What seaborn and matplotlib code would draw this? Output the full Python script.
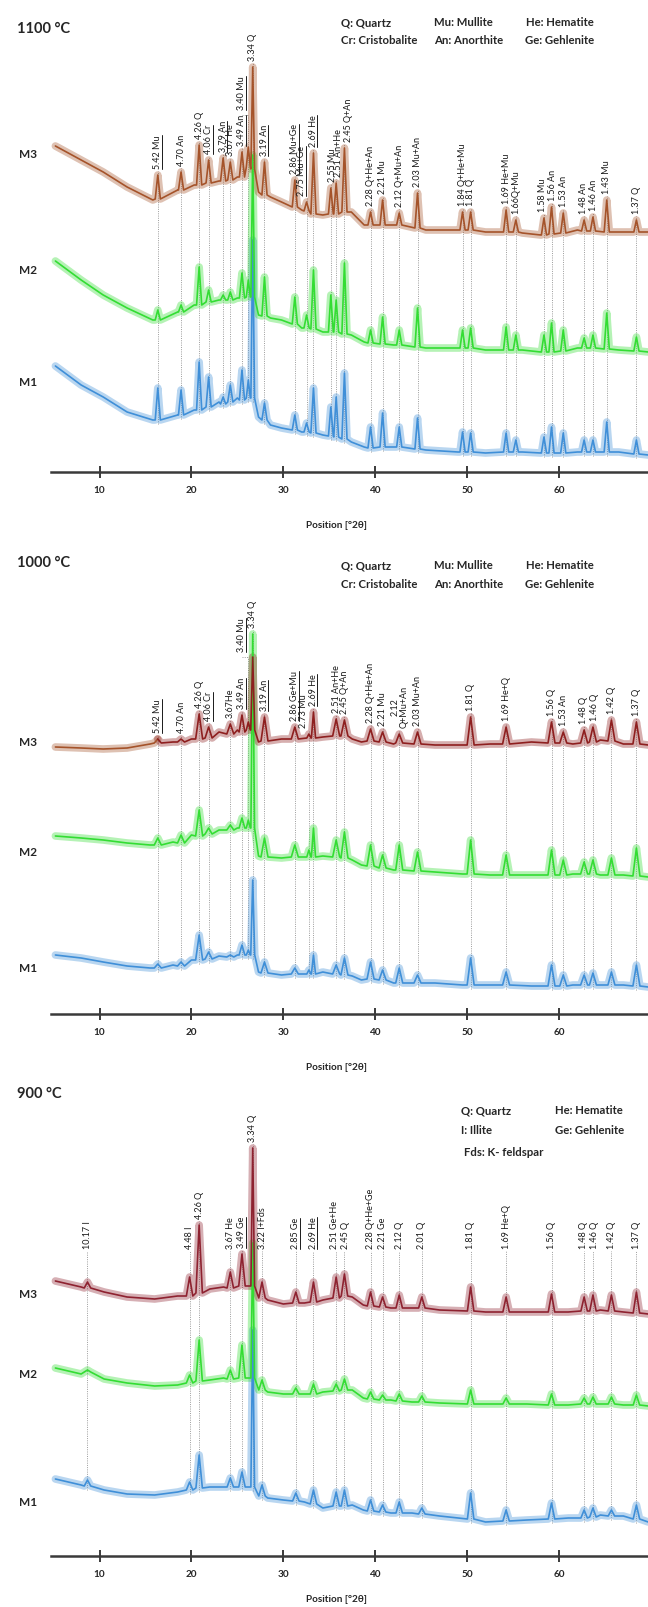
import numpy as np
import pandas as pd
import matplotlib
matplotlib.use("Agg")
import matplotlib.pyplot as plt
from matplotlib.lines import Line2D
import seaborn as sns

# ======================= DATA =======================
# ---------- 1100 °C ----------
T1100_POS = [16.34, 18.87, 20.84, 21.87, 23.45, 24.23, 25.50, 26.19, 26.67, 27.95, 31.25, 32.53,
             33.28, 35.17, 35.75, 36.65, 39.49, 40.80, 42.61, 44.60, 49.50, 50.38, 54.24, 55.30,
             58.36, 59.18, 60.46, 62.73, 63.69, 65.19, 68.42]
T1100_LAB = ["5.42 Mu", "4.70 An", "4.26 Q", "4.06 Cr", "3.79 An", "3.67 He", "3.49 An", "3.40 Mu",
             "3.34 Q", "3.19 An", "2.86 Mu+Ge", "2.75 Mu+Ge", "2.69 He", "2.55 Mu", "2.51 An+He",
             "2.45 Q+An", "2.28 Q+He+An", "2.21 Mu", "2.12 Q+Mu+An", "2.03 Mu+An", "1.84 Q+He+Mu",
             "1.81 Q", "1.69 He+Mu", "1.66Q+Mu", "1.58 Mu", "1.56 An", "1.53 An", "1.48 An",
             "1.46 An", "1.43 Mu", "1.37 Q"]
T1100_UL = [1, 0, 0, 1, 1, 0, 1, 1, 0, 1, 1, 1, 1, 0, 0, 0, 0, 0, 0, 0, 0, 0, 0, 0, 0, 0, 0, 0, 0, 0, 0]
T1100_KX = [5.2, 8, 10.4, 13, 15.8, 18.5, 20.3, 23.0, 25.0, 27.3, 28.6, 29.8, 32.0, 34.3, 37.4,
            38.8, 42.0, 45.5, 49.0, 52.0, 56.0, 58.0, 62.0, 66.5, 69.7]
T1100_M3_K = [326, 312, 300, 285, 272, 282, 287, 291, 295, 280, 275, 270, 262, 257, 260,
              247, 247, 242, 242, 240, 239, 237, 242, 240, 240]
T1100_M2_K = [211, 192, 177, 164, 152, 160, 167, 172, 174, 157, 154, 152, 144, 140, 137,
              130, 127, 124, 124, 122, 122, 120, 124, 122, 120]
T1100_M1_K = [106, 87, 75, 60, 52, 57, 62, 70, 74, 55, 47, 44, 40, 37, 30,
              25, 25, 22, 20, 19, 20, 19, 20, 20, 17]
T1100_M3_A = [297, 300, 327, 312, 314, 310, 320, 325, 405, 310, 292, 270, 319, 284, 289, 324,
              260, 272, 259, 279, 260, 260, 262, 252, 254, 265, 259, 252, 255, 272, 252]
T1100_M3_B = [273, 282, 287, 289, 291, 292, 295, 305, 303, 277, 265, 261, 258, 258, 258, 260,
              247, 247, 247, 244, 242, 242, 240, 240, 237, 238, 239, 241, 241, 240, 240]
T1100_M2_A = [162, 167, 205, 182, 177, 180, 199, 192, 317, 195, 175, 157, 202, 177, 172, 209,
              142, 155, 142, 164, 142, 144, 145, 137, 137, 149, 142, 134, 137, 159, 135]
T1100_M2_B = [152, 160, 167, 170, 172, 172, 174, 175, 175, 156, 148, 144, 143, 140, 140, 138,
              129, 128, 127, 125, 124, 124, 122, 122, 120, 120, 121, 124, 124, 123, 121]
T1100_M1_A = [84, 82, 110, 95, 75, 87, 102, 92, 232, 69, 57, 49, 84, 65, 75, 99,
              45, 59, 45, 54, 40, 39, 39, 32, 35, 45, 39, 32, 32, 50, 32]
T1100_M1_B = [52, 57, 62, 65, 68, 70, 72, 74, 74, 52, 42, 40, 39, 36, 35, 33,
              24, 25, 25, 23, 20, 20, 20, 20, 19, 19, 19, 20, 20, 20, 18]

# ---------- 1000 °C ----------
T1000_POS = [16.34, 18.87, 20.84, 21.87, 24.23, 25.50, 26.19, 26.67, 27.95, 31.25, 32.78, 33.28,
             35.75, 36.65, 39.49, 40.80, 42.61, 44.60, 50.38, 54.24, 59.18, 60.46, 62.73, 63.69,
             65.70, 68.42]
T1000_LAB = ["5.42 Mu", "4.70 An", "4.26 Q", "4.06 Cr", "3.67He", "3.49 An", "3.40 Mu", "3.34 Q",
             "3.19 An", "2.86 Ge+Mu", "2.73 Mu", "2.69 He", "2.51 An+He", "2.45 Q+An",
             "2.28 Q+He+An", "2.21 Mu", "2.12\nQ+Mu+An", "2.03 Mu+An", "1.81 Q", "1.69 He+Q",
             "1.56 Q", "1.53 An", "1.48 Q", "1.46 Q", "1.42 Q", "1.37 Q"]
T1000_UL = [1, 0, 0, 1, 0, 1, 1, 0, 1, 1, 0, 1, 0, 0, 0, 0, 0, 0, 0, 0, 0, 0, 0, 0, 0, 0]
T1000_KX = [5.2, 8, 10.4, 13, 15.5, 18, 20.0, 23.0, 25.0, 27.3, 29.8, 34.3, 37.5, 38.5, 42.0,
            46.5, 49.5, 52.5, 57.0, 61.5, 64.5, 67.0, 69.7]
T1000_M3_K = [267, 266, 265, 266, 270, 272, 275, 282, 284, 272, 275, 277, 275, 272, 270,
              269, 269, 270, 272, 270, 274, 270, 269]
T1000_M2_K = [178, 176, 174, 171, 169, 172, 179, 184, 186, 158, 156, 158, 154, 149, 144,
              142, 140, 139, 139, 140, 139, 139, 137]
T1000_M1_K = [59, 56, 52, 48, 46, 49, 54, 58, 59, 42, 39, 42, 38, 34, 31,
              31, 29, 29, 28, 29, 29, 29, 27]
T1000_M3_A = [275, 275, 300, 287, 290, 299, 292, 357, 297, 287, 280, 302, 295, 294, 285, 282,
              280, 282, 297, 287, 292, 282, 284, 287, 294, 292]
T1000_M3_B = [271, 272, 275, 276, 280, 282, 284, 284, 273, 275, 276, 276, 278, 278, 273, 272,
              271, 270, 269, 270, 271, 271, 271, 272, 273, 270]
T1000_M2_A = [176, 179, 204, 186, 189, 196, 194, 380, 176, 169, 164, 186, 174, 182, 169, 159,
              169, 162, 174, 159, 164, 154, 152, 154, 156, 166]
T1000_M2_B = [169, 171, 178, 180, 184, 186, 186, 186, 157, 157, 157, 157, 157, 156, 148, 146,
              144, 143, 140, 139, 139, 139, 140, 140, 139, 138]
T1000_M1_A = [50, 52, 79, 62, 59, 69, 64, 134, 52, 46, 44, 59, 49, 56, 52, 44,
              46, 39, 56, 42, 49, 39, 39, 41, 42, 49]
T1000_M1_B = [46, 48, 54, 55, 57, 59, 59, 59, 41, 40, 40, 40, 40, 39, 35, 34,
              31, 31, 29, 29, 28, 28, 29, 29, 29, 28]

# ---------- 900 °C ----------
T900_POS = [8.69, 19.80, 20.84, 24.23, 25.50, 26.67, 27.68, 31.36, 33.28, 35.75, 36.65, 39.49,
            40.80, 42.61, 45.07, 50.38, 54.24, 59.18, 62.73, 63.69, 65.70, 68.42]
T900_LAB = ["10.17 I", "4.48 I", "4.26 Q", "3.67 He", "3.49 Ge", "3.34 Q", "3.22 I+Fds", "2.85 Ge",
            "2.69 He", "2.51 Ge+He", "2.45 Q", "2.28 Q+He+Ge", "2.21 Ge", "2.12 Q", "2.01 Q",
            "1.81 Q", "1.69 He+Q", "1.56 Q", "1.48 Q", "1.46 Q", "1.42 Q", "1.37 Q"]
T900_UL = [0, 0, 0, 0, 1, 0, 0, 1, 1, 0, 0, 0, 0, 0, 0, 0, 0, 0, 0, 0, 0, 0]
T900_KX = [5.2, 8, 10.5, 13, 16, 18.5, 22, 23.5, 28.3, 30, 32.3, 34.3, 37.5, 38.7, 41.7,
           44, 47, 52, 56.5, 61, 64.5, 67, 69.7]
T900_M3_K = [275, 269, 264, 259, 257, 260, 267, 269, 256, 252, 253, 256, 259, 251, 248,
             248, 246, 244, 244, 244, 246, 244, 242]
T900_M2_K = [188, 182, 177, 173, 170, 171, 176, 178, 164, 162, 162, 164, 166, 158, 156,
             154, 153, 152, 152, 151, 152, 151, 150]
T900_M1_K = [77, 71, 66, 62, 61, 64, 69, 69, 58, 56, 54, 48, 51, 46, 43,
             43, 40, 34, 36, 38, 41, 40, 34]
T900_M3_A = [274, 279, 331, 284, 302, 408, 274, 264, 274, 279, 282, 264, 259, 261, 259,
             269, 259, 262, 259, 261, 261, 264]
T900_M3_B = [268, 260, 263, 268, 270, 270, 258, 253, 254, 258, 260, 250, 249, 248, 248,
             245, 244, 244, 245, 245, 245, 243]
T900_M2_A = [186, 181, 216, 186, 211, 313, 176, 168, 172, 172, 177, 164, 161, 162, 160,
             166, 158, 162, 158, 159, 159, 161]
T900_M2_B = [184, 173, 175, 177, 178, 178, 166, 162, 162, 165, 166, 157, 156, 155, 154,
             152, 152, 151, 152, 152, 152, 151]
T900_M1_A = [76, 74, 101, 78, 84, 226, 71, 63, 66, 64, 66, 56, 51, 54, 48,
             63, 46, 53, 46, 48, 46, 51]
T900_M1_B = [70, 66, 68, 69, 69, 69, 60, 55, 52, 50, 50, 45, 44, 43, 42,
             37, 35, 37, 38, 39, 40, 37]

SAMPLES = ["M3", "M2", "M1"]
TITLES = ["1100 °C", "1000 °C", "900 °C"]
LEGEND_1100 = ["Q: Quartz", "Mu: Mullite", "He: Hematite", "Cr: Cristobalite", "An: Anorthite", "Ge: Gehlenite"]
LEGEND_1000 = ["Q: Quartz", "Mu: Mullite", "He: Hematite", "Cr: Cristobalite", "An: Anorthite", "Ge: Gehlenite"]
LEGEND_900 = ["Q: Quartz", "He: Hematite", "I: Illite", "Ge: Gehlenite", "Fds: K- feldspar"]
XTICKS = [10, 20, 30, 40, 50, 60]
XLABEL = "Position [°2θ]"

# ======================= LAYOUT / STYLE =======================
FIG_W, FIG_H = 648, 1607
X_LEFT_PX = 51
XMIN, XMAX = 4.72, 69.68
AX_H = 470
LABEL_FS = 6.5

sns.set_theme(style="white")
plt.rcParams['font.family'] = ['Lato', 'DejaVu Sans']


def fx(p):
    return p / FIG_W


def fy(p):
    return 1 - p / FIG_H


def build_trace(kx, ky, pos, apex, base, hw):
    pos = list(pos)
    half = []
    for i, p in enumerate(pos):
        gaps = [abs(p - q) for j, q in enumerate(pos) if j != i]
        h = min([hw] + [0.45 * g for g in gaps])
        if apex[i] - base[i] > 80:
            h = min(h, 0.2)
        half.append(h)
    xs, ys = [], []
    for x, y in zip(kx, ky):
        if all(abs(x - p) > h + 0.05 for p, h in zip(pos, half)):
            xs.append(x)
            ys.append(y)
    for p, a, b, h in zip(pos, apex, base, half):
        xs += [p - h, p, p + h]
        ys += [b, a, b]
    return pd.DataFrame({"x": xs, "y": ys}).sort_values("x").reset_index(drop=True)


panels = [
    dict(title=TITLES[0], axis_y=472, title_y=29, xlabel_dy=53, hw=0.28, floor=0,
         pos=T1100_POS, lab=T1100_LAB, ul=T1100_UL, kx=T1100_KX,
         traces=[(T1100_M1_K, T1100_M1_A, T1100_M1_B), (T1100_M2_K, T1100_M2_A, T1100_M2_B),
                 (T1100_M3_K, T1100_M3_A, T1100_M3_B)],
         colors=["#3f8fd8", "#33dd33", "#a5532a"], m3_left_color=None,
         raised={7: (25.5, 362)},
         dx={11: -0.5, 13: 0.15, 14: 0.3, 15: 0.4, 24: -0.15, 25: 0.1, 27: -0.1, 28: 0.1},
         mlab_y=[155, 270, 383],
         legend=LEGEND_1100,
         legend_xy=[(341, 23), (434, 23), (526, 23), (341, 41), (434, 41), (525, 41)]),
    dict(title=TITLES[1], axis_y=1014, title_y=563, xlabel_dy=53, hw=0.38, floor=0,
         pos=T1000_POS, lab=T1000_LAB, ul=T1000_UL, kx=T1000_KX,
         traces=[(T1000_M1_K, T1000_M1_A, T1000_M1_B), (T1000_M2_K, T1000_M2_A, T1000_M2_B),
                 (T1000_M3_K, T1000_M3_A, T1000_M3_B)],
         colors=["#3f8fd8", "#33dd33", "#8e1f1f"], m3_left_color="#a5532a",
         raised={6: (25.5, 362)},
         dx={10: -0.6, 22: -0.12, 23: 0.12},
         mlab_y=[742, 852, 968],
         legend=LEGEND_1000,
         legend_xy=[(341, 566), (434, 566), (526, 566), (341, 584), (434, 584), (525, 584)]),
    dict(title=TITLES[2], axis_y=1556, title_y=1094, xlabel_dy=43, hw=0.35, floor=307,
         pos=T900_POS, lab=T900_LAB, ul=T900_UL, kx=T900_KX,
         traces=[(T900_M1_K, T900_M1_A, T900_M1_B), (T900_M2_K, T900_M2_A, T900_M2_B),
                 (T900_M3_K, T900_M3_A, T900_M3_B)],
         colors=["#3f8fd8", "#33dd33", "#8e2230"], m3_left_color=None,
         raised={},
         dx={9: -0.15, 10: 0.15, 18: -0.12, 19: 0.12},
         mlab_y=[1295, 1375, 1502],
         legend=LEGEND_900,
         legend_xy=[(461, 1111), (555, 1111), (461, 1131), (555, 1131), (464, 1152)]),
]

fig = plt.figure(figsize=(FIG_W / 100, FIG_H / 100), dpi=100)
underlined = []
GUIDE = dict(colors="#9c9c9c", linestyles=(0, (1, 1.3)), lw=0.7, zorder=1)

for P in panels:
    ay = P["axis_y"]
    ax = fig.add_axes([fx(X_LEFT_PX), fy(ay), 1 - fx(X_LEFT_PX), AX_H / FIG_H])
    ax.set_facecolor("none")
    ax.set_xlim(XMIN, XMAX)
    ax.set_ylim(0, AX_H)

    # traces: M1, M2, M3 (M3 on top)
    for ti, ((k, a, b), col) in enumerate(zip(P["traces"], P["colors"])):
        df = build_trace(P["kx"], k, P["pos"], a, b, P["hw"])
        parts = [(df, col)]
        if ti == 2 and P["m3_left_color"]:
            parts = [(df[df["x"] <= 16.4], P["m3_left_color"]), (df[df["x"] >= 16.0], col)]
        for d, c in parts:
            sns.lineplot(data=d, x="x", y="y", ax=ax, color=c, lw=5.5, alpha=0.36,
                         estimator=None, sort=False, legend=False, zorder=3)
            sns.lineplot(data=d, x="x", y="y", ax=ax, color=c, lw=1.2,
                         estimator=None, sort=False, legend=False, zorder=4)

    # peak labels and dotted guide lines
    m1b = P["traces"][0][2]
    for i, (p, lab, u) in enumerate(zip(P["pos"], P["lab"], P["ul"])):
        top = max(P["traces"][0][1][i], P["traces"][1][1][i], P["traces"][2][1][i])
        lb = max(top + 6, P["floor"])
        lx = p + P["dx"].get(i, 0.0)
        if i in P["raised"]:
            lx, lb = P["raised"][i]
            ax.vlines(p, m1b[i] - 4, lb - 5, **GUIDE)
            ax.hlines(lb - 5, lx, p, **GUIDE)
        else:
            ax.vlines(p, m1b[i] - 4, lb - 2, **GUIDE)
        t = ax.text(lx, lb, lab, rotation=90, ha="center", va="bottom", fontsize=LABEL_FS,
                    color="#1a1a1a", zorder=5, linespacing=1.0)
        if u:
            underlined.append(t)

    # axis styling
    for s in ["left", "top", "right"]:
        ax.spines[s].set_visible(False)
    ax.spines["bottom"].set_linewidth(1.8)
    ax.spines["bottom"].set_color("#3a3a3a")
    ax.set_yticks([])
    ax.set_xticks(XTICKS)
    ax.set_xticklabels([str(v) for v in XTICKS], fontweight="bold", fontsize=7.2)
    ax.tick_params(axis="x", direction="inout", length=8, width=1.4, color="#3a3a3a",
                   pad=6, bottom=True)
    ax.set_xlabel("")
    ax.set_ylabel("")
    fig.text(fx(337), fy(ay + P["xlabel_dy"]), XLABEL, ha="center", va="center",
             fontsize=7.2, fontweight="bold")

    # title, sample names, legend
    fig.text(fx(17), fy(P["title_y"]), P["title"], ha="left", va="center", fontsize=10.5,
             fontweight="bold")
    for name, yy in zip(SAMPLES, P["mlab_y"]):
        fig.text(fx(19), fy(yy), name, ha="left", va="center", fontsize=8.5, fontweight="bold")
    for txt, (lx, ly) in zip(P["legend"], P["legend_xy"]):
        fig.text(fx(lx), fy(ly), txt, ha="left", va="center", fontsize=8.2, fontweight="bold")

# underline the underlined labels (line on the baseline side of the rotated text)
fig.canvas.draw()
renderer = fig.canvas.get_renderer()
for t in underlined:
    bb = t.get_window_extent(renderer)
    xline = (bb.x1 - 0.5) / FIG_W
    fig.add_artist(Line2D([xline, xline], [bb.y0 / FIG_H, bb.y1 / FIG_H],
                          transform=fig.transFigure, color="#1a1a1a", lw=0.7))

fig.savefig("out.png", dpi=100)
